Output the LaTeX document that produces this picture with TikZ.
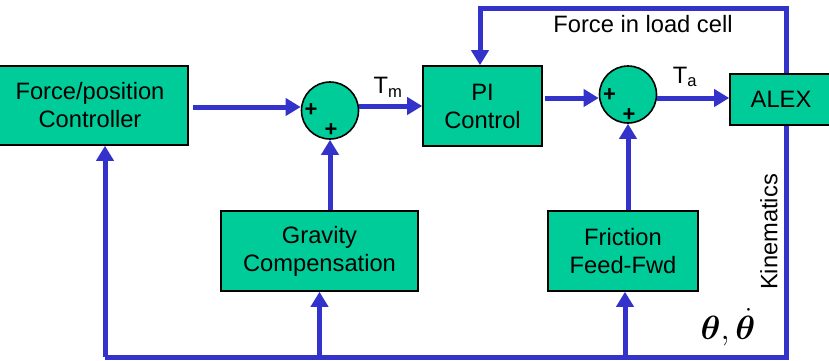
\documentclass[tikz,border=0pt]{standalone}
\usepackage{fontspec}
\setmainfont{Liberation Sans}
\usepackage{amsmath}
\usepackage{bm}
\usetikzlibrary{arrows.meta,calc}
\definecolor{boxgreen}{RGB}{0,204,153}
\definecolor{lineblue}{RGB}{51,51,204}
\begin{document}
\begin{tikzpicture}[x=1pt,y=-1pt,
  blk/.style={draw=black,line width=1.6pt,fill=boxgreen,align=center,inner sep=0pt,
    font=\fontsize{23.7}{28}\selectfont},
  sumnode/.style={draw=black,line width=1.6pt,fill=boxgreen,circle,minimum size=57pt,inner sep=0pt},
  arr/.style={draw=lineblue,line width=5pt,-{Triangle[length=15pt,width=17pt]}},
  wire/.style={draw=lineblue,line width=5pt},
  lbl/.style={font=\fontsize{23.7}{28}\selectfont,inner sep=0pt},
  plus/.style={font=\fontsize{22}{22}\selectfont\bfseries,inner sep=0pt}]
\clip (0,0) rectangle (829,360);
\fill[white] (0,0) rectangle (829,360);

% blocks
\node[blk,minimum width=196pt,minimum height=79pt] (fpc) at (90,105.5) {Force/position\\Controller};
\node[blk,minimum width=119pt,minimum height=80pt] (pi) at (482.5,106) {PI\\Control};
\node[blk,minimum width=102pt,minimum height=51pt] (alex) at (781,99.5) {ALEX};
\node[blk,minimum width=197pt,minimum height=80pt] (gc) at (319.5,251) {Gravity\\Compensation};
\node[blk,minimum width=150pt,minimum height=80pt] (ff) at (623,251) {Friction\\Feed-Fwd};

% summing junctions
\node[sumnode] (s1) at (330,110.5) {};
\node[sumnode] (s2) at (628,94.5) {};
\node[plus] (p1a) at (311,110) {+};
\node[plus] (p1b) at (331,130) {+};
\node[plus] (p2a) at (609.5,95) {+};
\node[plus] (p2b) at (629,115) {+};

% coordinates for wire corners
\coordinate (top) at (0,8);
\coordinate (bl) at (105,357);

% forward path
\draw[arr,shorten <=4pt] ([yshift=-1.5pt]fpc.east) -- ([yshift=-1.5pt]fpc.east -| s1.west);
\draw[arr] (s1.east |- pi.west) -- (pi.west);
\draw[arr,shorten <=2pt] ([yshift=-3.5pt]pi.east |- s2.west) -- ([yshift=-3.5pt]s2.west);
\draw[arr] ([yshift=-3.5pt]s2.east) -- ([yshift=-3.5pt]s2.east -| alex.west);

% force in load cell
\draw[arr] ([xshift=5pt]alex.north) |- ([xshift=-2.5pt]top -| pi.north) -- ([xshift=-2.5pt]pi.north);

% kinematics feedback
\draw[wire] ([xshift=5pt]alex.south) |- (bl);
\draw[arr] (bl) -- (bl |- fpc.south);
\draw[arr] (gc.south |- bl) -- (gc.south);
\draw[arr] ([xshift=2pt]ff.south |- bl) -- ([xshift=2pt]ff.south);
\draw[arr] (s1.south |- gc.north) -- (s1.south);
\draw[arr] (s2.south |- ff.north) -- (s2.south);

% labels
\node[lbl] (tm) at (388,87) {T\textsubscript{m}};
\node[lbl] (ta) at (685,77) {T\textsubscript{a}};
\node[lbl] (flc) at (643,24) {Force in load cell};
\node[lbl,rotate=90] (kin) at (769,232) {Kinematics};
\node[inner sep=0pt] (th) at (728,327) {\scalebox{1.35}{\fontsize{24.88}{25}\selectfont$\bm{\theta},\dot{\bm{\theta}}$}};
\end{tikzpicture}
\end{document}
